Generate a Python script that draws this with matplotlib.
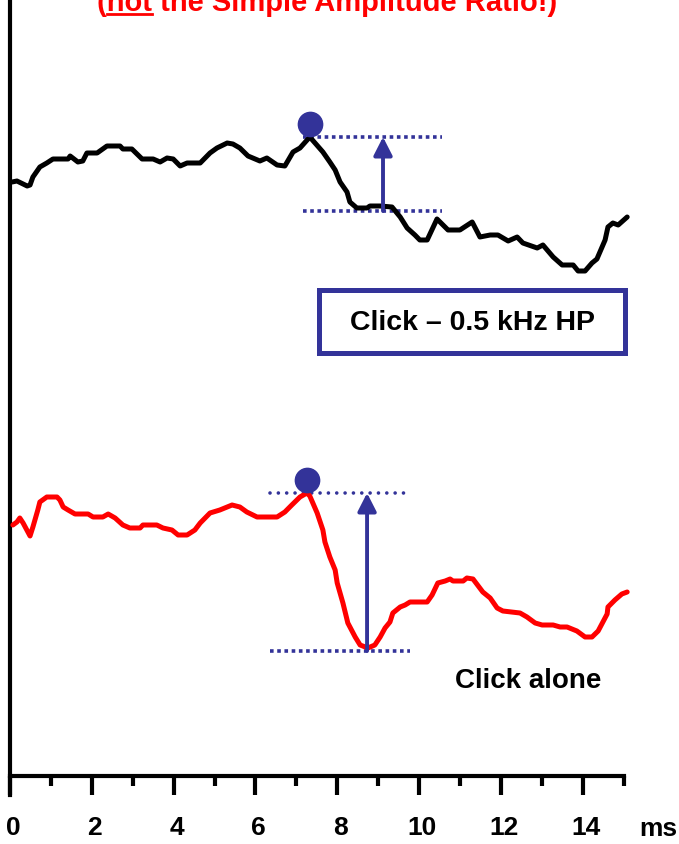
import numpy as np
import matplotlib
matplotlib.use('Agg')
from matplotlib import pyplot as plt
from matplotlib.patches import Rectangle, FancyArrowPatch
from matplotlib.lines import Line2D
from matplotlib.transforms import ScaledTranslation

plt.rcParams['font.family'] = ['Liberation Sans', 'DejaVu Sans']
plt.rcParams['font.weight'] = 'bold'

# time in ms, amplitude in arbitrary units relative to start of each trace
t_hp = [0.05, 0.17, 0.42, 0.49, 0.56, 0.73, 0.90, 1.05, 1.42, 1.47, 1.66, 1.78, 1.88, 2.13,
        2.37, 2.69, 2.76, 2.98, 3.23, 3.50, 3.67, 3.84, 3.99, 4.16, 4.33, 4.65, 4.89, 5.06,
        5.31, 5.45, 5.62, 5.82, 6.11, 6.28, 6.53, 6.72, 6.92, 7.09, 7.33, 7.65, 7.82, 7.95,
        8.07, 8.24, 8.31, 8.48, 8.73, 8.80, 9.05, 9.34, 9.54, 9.71, 9.90, 10.02, 10.20, 10.44,
        10.71, 11.00, 11.30, 11.49, 11.74, 11.93, 12.18, 12.40, 12.54, 12.89, 13.03, 13.28,
        13.50, 13.77, 13.89, 14.06, 14.23, 14.35, 14.55, 14.62, 14.74, 14.87, 15.09]
v_hp = [0.3, 0.4, -0.1, 0.0, 0.8, 1.8, 2.2, 2.6, 2.6, 2.9, 2.3, 2.4, 3.2, 3.2,
        3.9, 3.9, 3.6, 3.6, 2.6, 2.6, 2.3, 2.7, 2.6, 1.9, 2.2, 2.2, 3.2, 3.7,
        4.2, 4.1, 3.7, 2.9, 2.4, 2.7, 2.0, 1.9, 3.3, 3.7, 4.8, 3.3, 2.3, 1.5,
        0.3, -0.7, -1.7, -2.3, -2.3, -2.1, -2.1, -2.2, -3.2, -4.3, -5.0, -5.5, -5.5, -3.4,
        -4.5, -4.5, -3.7, -5.2, -5.0, -5.0, -5.6, -5.2, -5.8, -6.3, -6.0, -7.2,
        -8.0, -8.0, -8.6, -8.6, -7.8, -7.4, -5.5, -4.2, -3.8, -4.0, -3.2]

t_click = [0.07, 0.17, 0.24, 0.32, 0.49, 0.56, 0.68, 0.73, 0.90, 1.15, 1.22, 1.30, 1.42, 1.59,
           1.91, 2.03, 2.27, 2.40, 2.57, 2.76, 2.93, 3.18, 3.25, 3.59, 3.74, 3.96, 4.11, 4.33,
           4.52, 4.65, 4.89, 5.13, 5.43, 5.62, 5.79, 6.04, 6.28, 6.53, 6.72, 6.89, 7.09, 7.26,
           7.33, 7.51, 7.65, 7.70, 7.82, 7.95, 8.00, 8.14, 8.26, 8.44, 8.56, 8.75, 8.92, 9.05,
           9.17, 9.29, 9.36, 9.54, 9.66, 9.78, 10.20, 10.32, 10.46, 10.64, 10.76, 10.83, 11.08,
           11.17, 11.32, 11.56, 11.74, 11.91, 12.05, 12.47, 12.64, 12.84, 13.01, 13.28, 13.45,
           13.62, 13.86, 14.06, 14.23, 14.38, 14.60, 14.62, 14.79, 14.96, 15.09]
v_click = [0.0, 0.3, 0.7, 0.2, -1.1, -0.2, 1.5, 2.3, 2.8, 2.8, 2.5, 1.8, 1.5, 1.1,
           1.1, 0.8, 0.8, 1.1, 0.7, 0.0, -0.3, -0.3, 0.0, 0.0, -0.3, -0.5, -1.0, -1.0,
           -0.5, 0.2, 1.2, 1.5, 2.0, 1.8, 1.3, 0.8, 0.8, 0.8, 1.3, 2.0, 2.8, 3.2,
           2.9, 1.2, -0.5, -1.7, -3.2, -4.5, -5.8, -7.8, -9.8, -11.2, -12.0, -12.3, -12.0, -11.2,
           -10.3, -9.7, -8.8, -8.2, -8.0, -7.7, -7.7, -7.0, -5.8, -5.6, -5.4, -5.6, -5.6,
           -5.3, -5.4, -6.7, -7.3, -8.3, -8.6, -8.8, -9.2, -9.8, -10.0, -10.0, -10.2,
           -10.2, -10.6, -11.2, -11.2, -10.6, -8.9, -8.2, -7.5, -6.9, -6.7]

x_major = [0, 2, 4, 6, 8, 10, 12, 14]
x_minor = [1, 3, 5, 7, 9, 11, 13, 15]

title_text = '(not the Simple Amplitude Ratio!)'
label_hp = 'Click \u2013 0.5 kHz HP'
label_click = 'Click alone'
x_unit = 'ms'

BLUE = '#333399'
RED = '#ff0000'
OFF_HP = 59.1
OFF_CLICK = 25.1

W, H = 679, 844


def fx(px):
    return px / W


def fy(py):
    return 1 - py / H


def mark_peak_to_trough(ax, t, v, off, x0, x1, arrow_x, win, top_round):
    t = np.asarray(t)
    v = np.asarray(v) + off
    i_peak = np.argmax(v)
    peak = v[i_peak]
    sel = (t >= win[0]) & (t <= win[1])
    trough = v[sel].min() - 0.3

    if top_round:
        ax.plot([x0, x1], [peak, peak], color=BLUE, lw=2.6,
                linestyle=(0, (0.01, 2.3)), dash_capstyle='round', zorder=2)
    else:
        ax.plot([x0, x1], [peak, peak], color=BLUE, lw=2.6,
                linestyle=(0, (1, 1)), dash_capstyle='butt', zorder=2)
    ax.plot([x0, x1], [trough, trough], color=BLUE, lw=2.6,
            linestyle=(0, (1, 1)), dash_capstyle='butt', zorder=2)

    arr = FancyArrowPatch((arrow_x, trough), (arrow_x, peak),
                          arrowstyle='-|>,head_length=0.55,head_width=0.28',
                          mutation_scale=20, lw=2.8, color=BLUE,
                          shrinkA=0, shrinkB=0, zorder=4)
    ax.add_patch(arr)

    # dot sitting on top of the peak
    up = ScaledTranslation(0, 13 / 100, ax.figure.dpi_scale_trans)
    ax.plot([t[i_peak]], [peak], 'o', color=BLUE, markersize=17.5,
            transform=ax.transData + up, zorder=5)


fig = plt.figure(figsize=(6.79, 8.44), dpi=100)
ax = fig.add_axes([0, 0, 1, 1])
ax.set_xlim(-10 / 40.9, 669 / 40.9)
ax.set_ylim(-6.8, 77.6)
ax.patch.set_visible(False)

ax.plot(t_hp, np.array(v_hp) + OFF_HP, color='black', lw=3.6,
        solid_joinstyle='round', solid_capstyle='round', zorder=3)
ax.plot(t_click, np.array(v_click) + OFF_CLICK, color=RED, lw=3.6,
        solid_joinstyle='round', solid_capstyle='round', zorder=3)

mark_peak_to_trough(ax, t_hp, v_hp, OFF_HP, 7.16, 10.56, 9.12, (8.3, 9.4), False)
mark_peak_to_trough(ax, t_click, v_click, OFF_CLICK, 6.36, 9.78, 8.73, (8.0, 10.0), True)

# axes
for s in ['top', 'right']:
    ax.spines[s].set_visible(False)
ax.spines['bottom'].set_position(('data', 0))
ax.spines['left'].set_position(('data', 0))
ax.spines['bottom'].set_bounds(0, 15)
ax.spines['left'].set_bounds(-1.9, 77.6)
ax.spines['bottom'].set_linewidth(3)
ax.spines['left'].set_linewidth(3)

ax.set_xticks(x_major)
ax.set_xticklabels([str(v) for v in x_major], fontsize=19, fontweight='bold')
ax.set_xticks(x_minor, minor=True)
ax.tick_params(axis='x', which='major', direction='out', length=13.7, width=3, pad=15)
ax.tick_params(axis='x', which='minor', direction='out', length=7.2, width=3)
ax.tick_params(axis='y', left=False, labelleft=False)
# labels sit a few pixels right of their ticks
shift = ScaledTranslation(3 / 100, 0, fig.dpi_scale_trans)
for lab in ax.get_xticklabels():
    lab.set_transform(lab.get_transform() + shift)

ax.text(15.85, -5.35, x_unit, fontsize=19, fontweight='bold', ha='center', va='center')

# labels
box = Rectangle((fx(319), fy(353)), fx(625) - fx(319), fy(290) - fy(353),
                transform=fig.transFigure, facecolor='white', edgecolor=BLUE,
                lw=3.6, zorder=6)
fig.add_artist(box)
fig.text(fx(472), fy(330), label_hp, fontsize=20.5, fontweight='bold',
         ha='center', va='baseline', zorder=7)
fig.text(fx(528), fy(688), label_click, fontsize=20, fontweight='bold',
         ha='center', va='baseline')

# title, partly off the top of the picture, with "not" underlined
title = fig.text(fx(327.5), fy(11), title_text, fontsize=21, fontweight='bold',
                 color=RED, ha='center', va='baseline')
fig.canvas.draw()
rend = fig.canvas.get_renderer()
bb = title.get_window_extent(rend)
probe = fig.text(0, 0, '(', fontsize=21, fontweight='bold')
w_open = probe.get_window_extent(rend).width
probe.set_text('(not')
w_not = probe.get_window_extent(rend).width
probe.remove()
ux0 = (bb.x0 + w_open) / fig.bbox.width
ux1 = (bb.x0 + w_not) / fig.bbox.width
fig.add_artist(Line2D([ux0, ux1], [fy(14), fy(14)], transform=fig.transFigure,
                      color=RED, lw=2))

fig.savefig('out.png', dpi=100)
